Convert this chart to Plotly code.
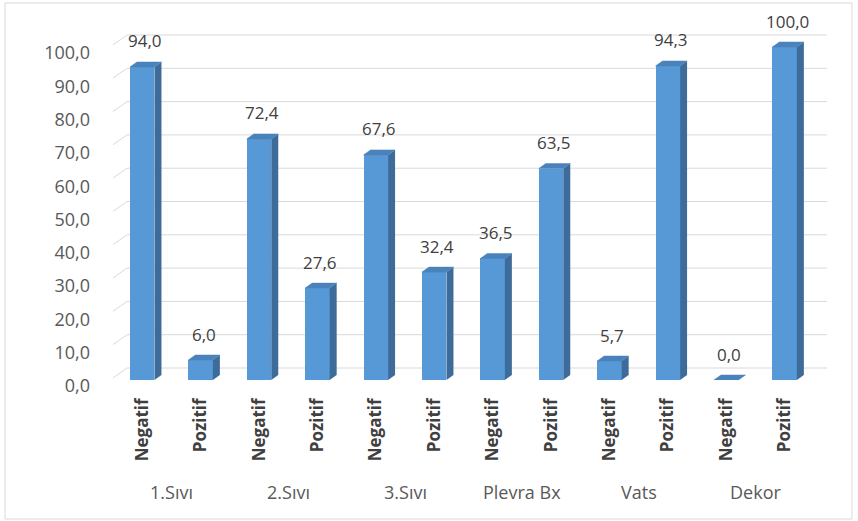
import plotly.graph_objects as go

# ---------------- data ----------------
groups = ["1.Sıvı", "2.Sıvı", "3.Sıvı", "Plevra Bx", "Vats", "Dekor"]
results = ["Negatif", "Pozitif"]
values = [94.0, 6.0, 72.4, 27.6, 67.6, 32.4, 36.5, 63.5, 5.7, 94.3, 0.0, 100.0]
y_ticks = [0, 10, 20, 30, 40, 50, 60, 70, 80, 90, 100]

# ---------------- style ----------------
W, H = 858, 521
ML, MR, MT, MB = 113, 28, 30, 141
PLOT_W = W - ML - MR
PLOT_H = H - MT - MB
SLOT = 58.4                     # px per category
XR = [-0.5, -0.5 + PLOT_W / SLOT]
PXU = 3.33                      # px per value unit
YR = [0, PLOT_H / PXU]
BW = 0.42                       # bar front width (category units)
DX, DY = 0.12, 1.5              # bar depth offset
WX, WY = 0.24, 3.6              # back-wall offset
FRONT, SIDE, TOP = "#5799D6", "#3D6C9A", "#4A82BC"
GRID = "#D9D9D9"
FONT = "Open Sans"

xs = list(range(len(values)))
labels = [results[i % 2] for i in xs]
fmt = lambda v: f"{v:.1f}".replace(".", ",")

fig = go.Figure()

# front faces
fig.add_trace(go.Bar(x=xs, y=values, width=BW, marker=dict(color=FRONT, line=dict(width=0)),
                     hoverinfo="skip", showlegend=False))

# side faces
sx, sy = [], []
for x, v in zip(xs, values):
    r = x + BW / 2
    sx += [r, r + DX, r + DX, r, r, None]
    sy += [0, DY, v + DY, v, 0, None]
fig.add_trace(go.Scatter(x=sx, y=sy, mode="lines", fill="toself", fillcolor=SIDE,
                         line=dict(width=0, color=SIDE), hoverinfo="skip", showlegend=False))
# top faces
tx, ty = [], []
for x, v in zip(xs, values):
    l, r = x - BW / 2, x + BW / 2
    tx += [l, r, r + DX, l + DX, l, None]
    ty += [v, v, v + DY, v + DY, v, None]
fig.add_trace(go.Scatter(x=tx, y=ty, mode="lines", fill="toself", fillcolor=TOP,
                         line=dict(width=0.5, color=TOP), hoverinfo="skip", showlegend=False))

# back-wall gridlines and side-wall diagonals
shapes = []
for t in y_ticks:
    shapes.append(dict(type="line", xref="x", yref="y", layer="below",
                       x0=XR[0] + WX, x1=XR[1] - 0.05, y0=t + WY, y1=t + WY,
                       line=dict(color=GRID, width=1)))
    shapes.append(dict(type="line", xref="x", yref="y", layer="below",
                       x0=XR[0] - 0.1, x1=XR[0] + WX, y0=t - 0.6, y1=t + WY,
                       line=dict(color=GRID, width=1)))
# outer frame
shapes.append(dict(type="rect", xref="paper", yref="paper",
                   x0=(5 - ML) / PLOT_W, x1=(852 - ML) / PLOT_W,
                   y0=(MT + PLOT_H - 519) / PLOT_H, y1=(MT + PLOT_H - 3) / PLOT_H,
                   line=dict(color=GRID, width=1)))

annotations = []
for x, v in zip(xs, values):
    annotations.append(dict(x=x, y=v, text=fmt(v), showarrow=False, xshift=3, yshift=26,
                            font=dict(family=FONT, size=17, color="#404040")))
for g, name in enumerate(groups):
    annotations.append(dict(x=2 * g + 0.5, y=(MT + PLOT_H - 492) / PLOT_H, yref="paper",
                            text=name, showarrow=False, yanchor="middle",
                            font=dict(family=FONT, size=18, color="#595959")))

fig.update_layout(
    width=W, height=H, margin=dict(l=ML, r=MR, t=MT, b=MB),
    paper_bgcolor="white", plot_bgcolor="white",
    shapes=shapes, annotations=annotations, bargap=0,
    xaxis=dict(range=XR, tickvals=xs, ticktext=labels, tickangle=-90, showgrid=False,
               zeroline=False, showline=False, ticks="", ticklabelstandoff=14,
               tickfont=dict(family=FONT, size=17, color="#404040", weight="bold")),
    yaxis=dict(range=YR, tickvals=y_ticks, ticktext=[fmt(t) for t in y_ticks],
               showgrid=False, zeroline=False, showline=False, ticks="", ticklabelstandoff=22,
               ticklabelshift=6,
               tickfont=dict(family=FONT, size=18, color="#595959")),
)

fig.write_html("out.html")
